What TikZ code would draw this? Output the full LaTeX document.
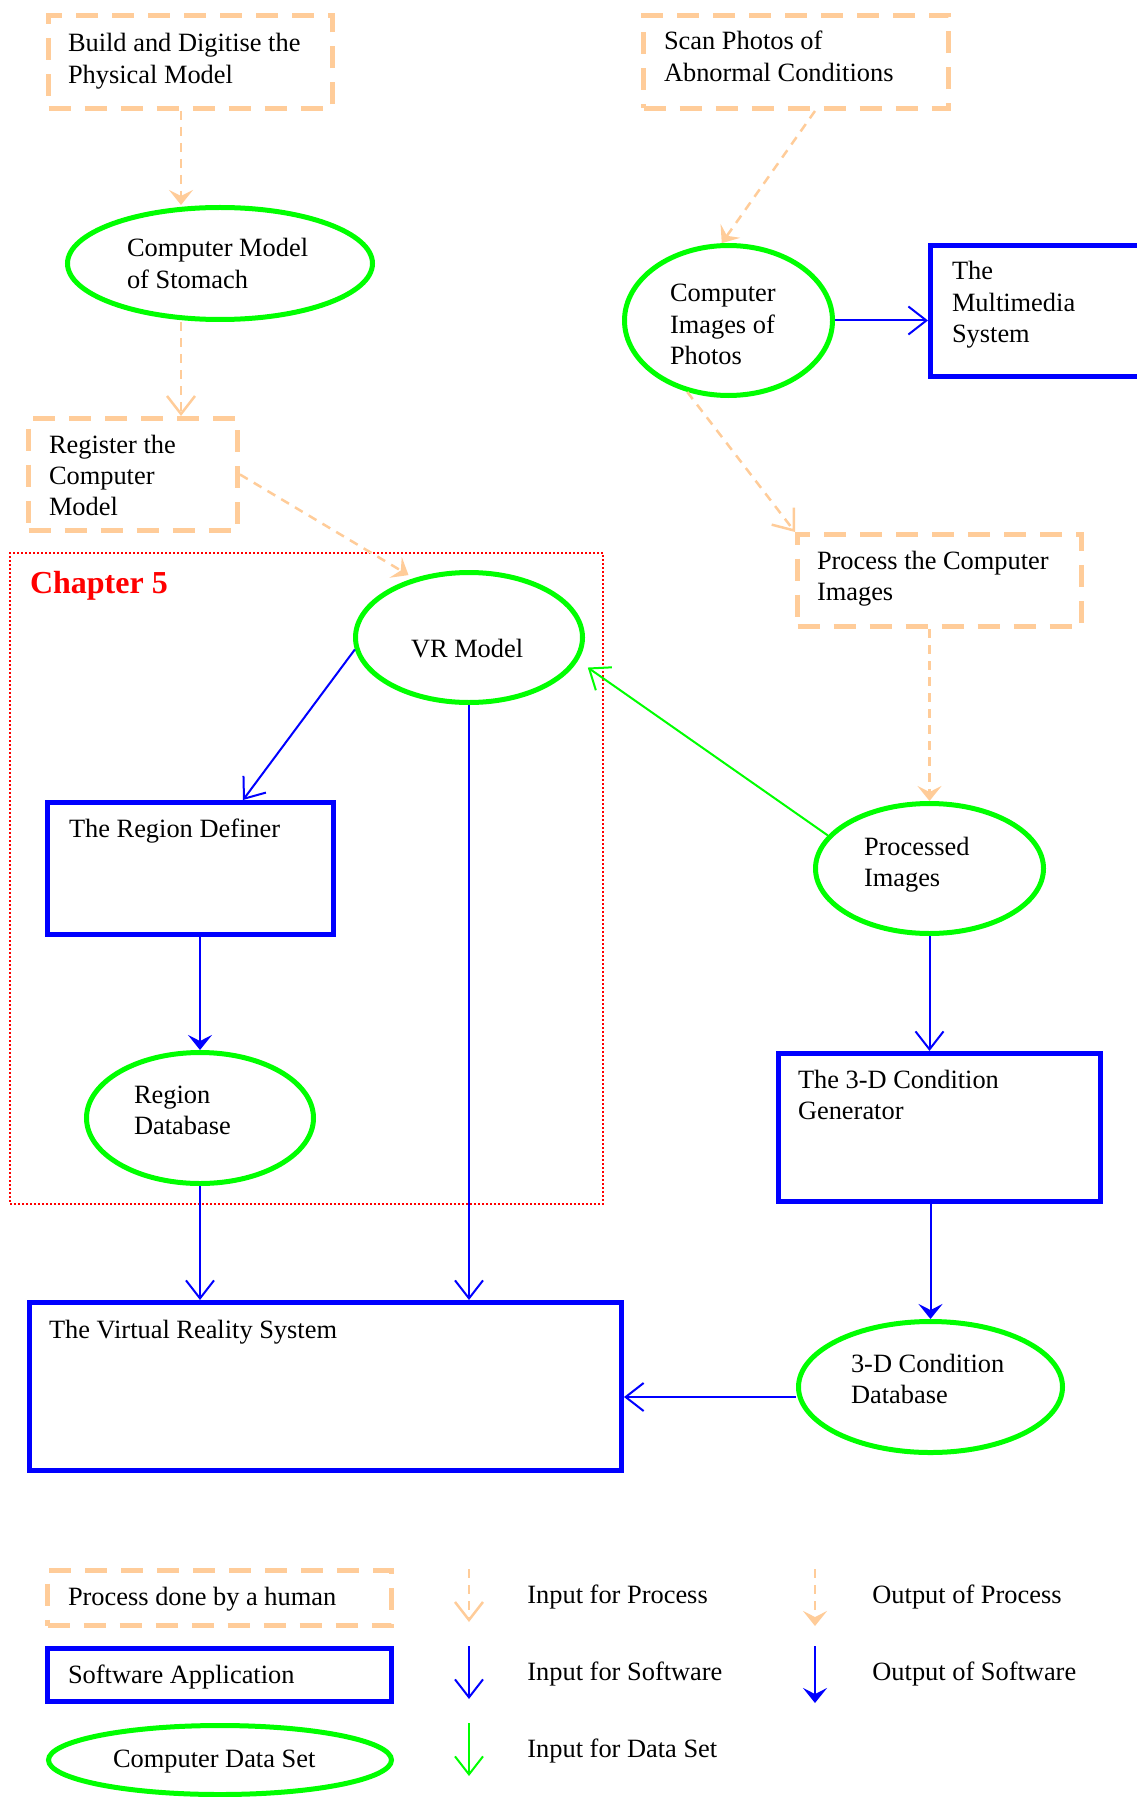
\documentclass[tikz,border=0pt]{standalone}
\usepackage{fontspec}
\setmainfont{Liberation Serif}
\usetikzlibrary{arrows.meta,shapes.geometric}

\definecolor{peach}{RGB}{255,204,153}
\definecolor{dsgreen}{RGB}{0,255,0}
\definecolor{swblue}{RGB}{0,0,255}
\definecolor{chapred}{RGB}{255,0,0}

\tikzset{
  every node/.style={font=\fontsize{13.2pt}{15.6pt}\selectfont, inner sep=0pt},
  plainspace/.style={align=left, execute at begin node={\spaceskip=0pt\xspaceskip=0pt\relax}},
  % box with text set at its top left: width, x padding, text width, text height, text depth
  geom/.style n args={5}{minimum width=#1pt, inner xsep=#2pt, inner ysep=0pt,
    text width=#3pt, text height=#4pt, text depth=#5pt, anchor=north west, plainspace},
  % ellipse: width, height, text width, text height, text depth
  ell/.style n args={5}{ellipse, draw=dsgreen, line width=2.5pt, inner sep=0pt,
    minimum width=#1pt, minimum height=#2pt, text width=#3pt,
    text height=#4pt, text depth=#5pt, plainspace},
  human/.style={draw=peach, line width=2.5pt, dash pattern=on 11pt off 7pt},
  software/.style={draw=swblue, line width=2.5pt},
  openv/.style={-{Straight Barb[length=9pt,width=14pt]}},
  filledv/.style={-{Stealth[length=7.5pt,width=12pt,inset=3pt]}},
  toproc/.style={color=peach, line width=1.25pt, dash pattern=on 4.5pt off 3.5pt, openv},
  fromproc/.style={color=peach, line width=1.25pt, dash pattern=on 4.5pt off 3.5pt, filledv},
  tosw/.style={color=swblue, line width=1pt, openv},
  fromsw/.style={color=swblue, line width=1pt, filledv},
  tods/.style={color=dsgreen, line width=1pt, openv},
}

\begin{document}
\begin{tikzpicture}[x=0.5pt, y=-0.5pt]
\useasboundingbox (0,0) rectangle (1136,1797);

% chapter frame
\node[geom={296.5}{10}{276.5}{20}{305.5}, draw=chapred, line width=1pt,
  dash pattern=on 1pt off 1pt, text=chapred,
  font=\fontsize{16pt}{19pt}\selectfont\bfseries] (chap) at (9,552) {Chapter 5};

% human processes
\node[human, geom={142}{9.75}{122.5}{18.25}{28.25}] (build) at (46,13) {Build and Digitise the\\Physical Model};
\node[human, geom={152.5}{10.25}{132}{17.25}{29.25}] (scan) at (641,13) {Scan Photos of\\Abnormal Conditions};
\node[human, geom={104.5}{10.25}{84}{17.25}{38.75}] (reg) at (26,416) {Register the\\Computer\\Model};
\node[human, geom={142}{9.75}{122.5}{17.25}{28.75}] (proc) at (795,532) {Process the Computer\\Images};

% software applications
\node[software, geom={108.5}{10.75}{87}{17.25}{48.25}] (mm) at (928,243) {The\\Multimedia\\System};
\node[software, geom={143}{10.75}{121.5}{17.25}{48.75}] (rd) at (45,800) {The Region Definer};
\node[software, geom={161}{9.75}{141.5}{17.25}{56.75}] (gen) at (776,1051) {The 3-D Condition\\Generator};
\node[software, geom={296}{9.75}{276.5}{17.75}{66.25}] (vrs) at (27,1300) {The Virtual Reality System};

% data sets
\node[ell={152.5}{56}{93}{6}{12.5}] (cm) at (220,263.5) {Computer Model\\of Stomach};
\node[ell={104}{75}{58.5}{6}{24.5}] (ci) at (728.5,320.5) {Computer\\Images of\\Photos};
\node[ell={113.5}{65}{58}{19.5}{0}] (vr) at (469,637.5) {VR Model};
\node[ell={114}{65}{65.5}{6}{19.5}] (pi) at (929.5,868.5) {Processed\\Images};
\node[ell={113.5}{65.5}{66}{6}{21}] (rdb) at (200,1118) {Region\\Database};
\node[ell={132}{65.5}{79.5}{6}{21}] (db) at (930.5,1387) {3-D Condition\\Database};

% connectors
\coordinate (colA) at (181,0);
\draw[fromproc] (build.south -| colA) -- (cm.north -| colA);
\draw[toproc] (cm.south -| colA) -- (reg.north -| colA);
\draw[fromproc, shorten >=3pt] (reg.east) -- (vr.133);
\draw[fromproc] ([xshift=9.5pt]scan.south) -- (ci.95);
\draw[tosw] (ci.east) -- (ci.east -| mm.west);
\draw[toproc] (ci.240) -- (proc.north west);
\draw[fromproc] (proc.south -| pi.north) -- (pi.north);
\draw[tods, shorten >=6pt] (pi.162) -- (vr.348);
\draw[tosw] (vr.186) -- ([xshift=26.25pt]rd.north);
\draw[tosw] (vr.south) -- (vr.south |- vrs.north);
\draw[fromsw] (rd.south -| rdb.north) -- (rdb.north);
\draw[tosw] (rdb.south) -- (rdb.south |- vrs.north);
\draw[tosw] (pi.south) -- (pi.south |- gen.north);
\draw[fromsw] (gen.south -| db.north) -- (db.north);
\coordinate (dbw) at ([yshift=-5pt]db.west);
\draw[tosw] (dbw) -- (dbw -| vrs.east);

% legend
\node[human, geom={172}{10.25}{151.5}{17.25}{10.25}] (lhuman) at (45,1568) {Process done by a human};
\node[software, geom={172}{10.25}{151.5}{17.25}{9.25}] (lsoft) at (45,1646) {Software Application};
\node[ell={171.5}{34.5}{107}{7}{0}] (ldata) at (220,1760) {Computer Data Set};

\coordinate (la1) at (469,1569); \coordinate (la2) at (469,1622);
\coordinate (lb1) at (815,1569); \coordinate (lb2) at (815,1626);
\coordinate (lc1) at (469,1646); \coordinate (lc2) at (469,1699);
\coordinate (ld1) at (815,1646); \coordinate (ld2) at (815,1703);
\coordinate (le1) at (469,1723); \coordinate (le2) at (469,1776);
\draw[toproc] (la1) -- (la2);
\draw[fromproc] (lb1) -- (lb2);
\draw[tosw] (lc1) -- (lc2);
\draw[fromsw] (ld1) -- (ld2);
\draw[tods] (le1) -- (le2);

\node[anchor=base west] (ta) at (527,1603) {Input for Process};
\node[anchor=base west] (tb) at (872,1603) {Output of Process};
\node[anchor=base west] (tc) at (527,1680) {Input for Software};
\node[anchor=base west] (td) at (872,1680) {Output of Software};
\node[anchor=base west] (te) at (527,1757) {Input for Data Set};
\end{tikzpicture}
\end{document}
